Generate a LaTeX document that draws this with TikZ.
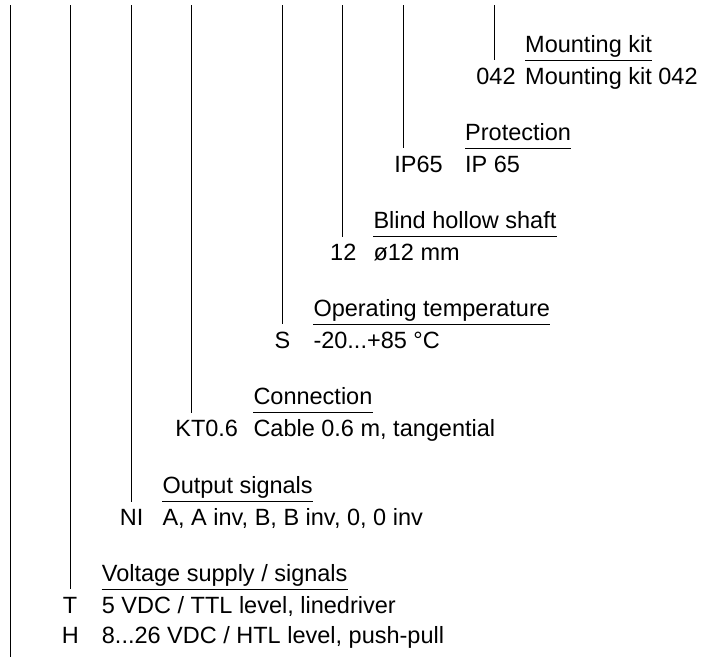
\documentclass[tikz,border=0pt]{standalone}
\usepackage{fontspec}
\setmainfont{Liberation Sans}
\tikzset{
  txt/.style={anchor=base west, inner sep=0pt, font=\fontsize{23.5pt}{28pt}\selectfont},
  codetxt/.style={anchor=base, inner sep=0pt, font=\fontsize{23.5pt}{28pt}\selectfont},
  rule/.style={line width=1pt, black},
}
\begin{document}
\begin{tikzpicture}[x=1pt, y=-1pt]
\useasboundingbox (0,0) rectangle (703,657);

% headers
\node[txt] (h0) at (525,52)    {Mounting kit};
\node[txt] (h1) at (465,140.3) {Protection};
\node[txt] (h2) at (373.3,228.7) {Blind hollow shaft};
\node[txt] (h3) at (313.3,316.3) {Operating temperature};
\node[txt] (h4) at (253.3,404.7) {Connection};
\node[txt] (h5) at (162.3,493.7) {Output signals};
\node[txt] (h6) at (101.7,581.3) {Voltage supply / signals};

% values
\node[txt] (v0) at (525,84)     {Mounting kit 042};
\node[txt] (v1) at (465,172.3)  {IP 65};
\node[txt] (v2) at (373.3,260.7) {ø12 mm};
\node[txt] (v3) at (313.3,348.3) {-20...+85 °C};
\node[txt] (v4) at (253.3,436.7) {Cable 0.6 m, tangential};
\node[txt] (v5) at (162.3,525.7) {A, A inv, B, B inv, 0, 0 inv};
\node[txt] (v6) at (101.7,613.3) {5 VDC / TTL level, linedriver};
\node[txt] (v7) at (101.7,643.3) {8...26 VDC / HTL level, push-pull};

% codes
\node[codetxt] (c0) at (496,84)     {042};
\node[codetxt] (c1) at (418.5,172.3) {IP65};
\node[codetxt] (c2) at (343.3,260.7) {12};
\node[codetxt] (c3) at (282.5,348.3) {S};
\node[codetxt] (c4) at (206.7,436.7) {KT0.6};
\node[codetxt] (c5) at (131.7,525.7) {NI};
\node[codetxt] (c6) at (70,613.3)    {T};
\node[codetxt] (c7) at (70.3,643.3)  {H};

% underlines
\foreach \i in {0,...,6}{
  \draw[rule] ([yshift=-8pt]h\i.base west) coordinate (u\i) -- ([yshift=-8pt]h\i.base east);
}

% vertical lines
\coordinate (t0) at (494,5);
\coordinate (t1) at (403,5);
\coordinate (t2) at (342,5);
\coordinate (t3) at (282,5);
\coordinate (t4) at (191,5);
\coordinate (t5) at (131,5);
\coordinate (t6) at (70,5);
\coordinate (tl) at (10,5);
\coordinate (bl) at (10,657);
\foreach \i in {0,...,6}{
  \draw[rule] (t\i) -- (t\i |- u\i);
}
\draw[rule] (tl) -- (bl);
\end{tikzpicture}
\end{document}
